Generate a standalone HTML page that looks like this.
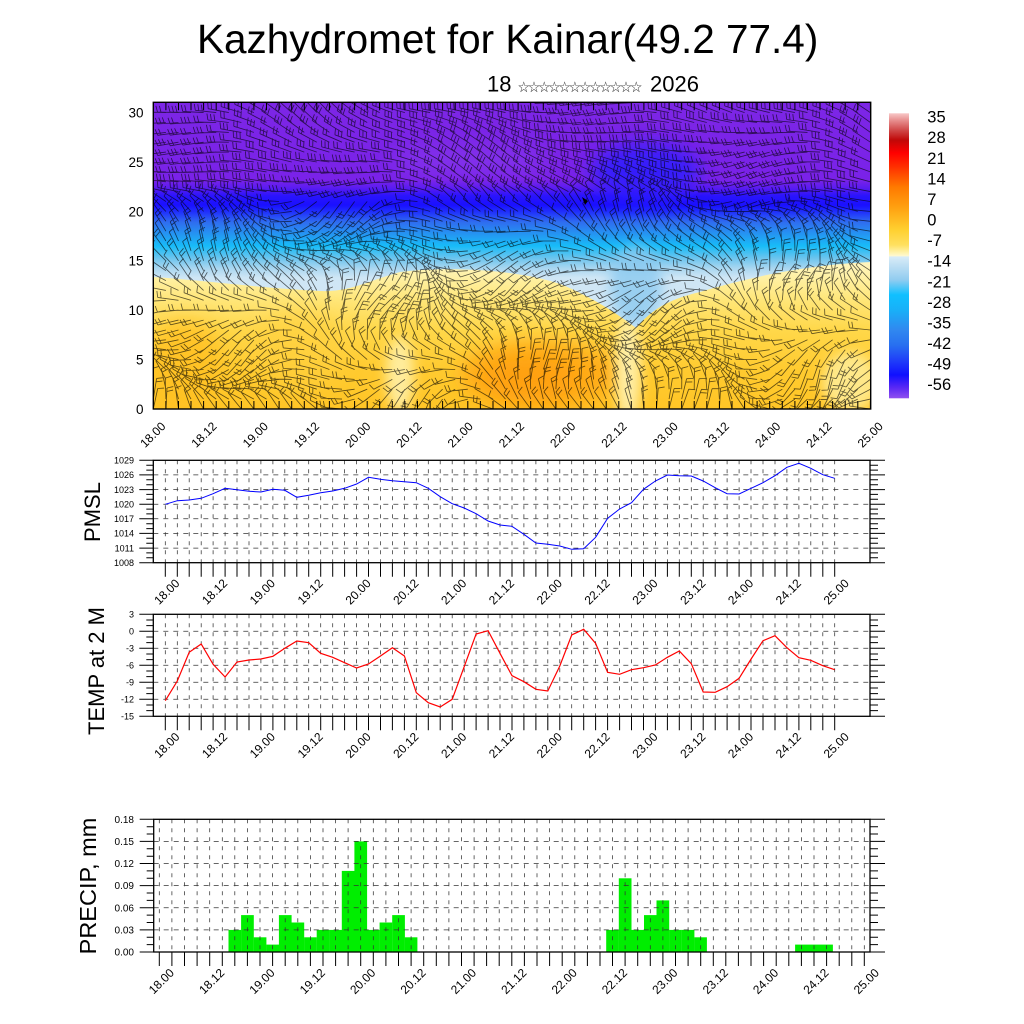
<!DOCTYPE html>
<html>
<head>
<meta charset="utf-8">
<style>
html,body{margin:0;padding:0;background:#fff;}
svg{display:block;}
text{font-family:"Liberation Sans",Arial,"DejaVu Sans",sans-serif;fill:#000;}
</style>
</head>
<body>
<svg id="s" xmlns="http://www.w3.org/2000/svg" width="1024" height="1024" viewBox="0 0 1024 1024">
<defs>
  <linearGradient id="bgG" gradientUnits="userSpaceOnUse" x1="0" y1="102" x2="0" y2="409">
    <stop offset="0" stop-color="#7c26e6"/>
    <stop offset="0.254" stop-color="#7a22e8"/>
    <stop offset="0.280" stop-color="#5a1cf0"/>
    <stop offset="0.306" stop-color="#2a14fc"/>
    <stop offset="0.336" stop-color="#1a10ff"/>
    <stop offset="0.358" stop-color="#2030fc"/>
    <stop offset="0.391" stop-color="#2f6cf0"/>
    <stop offset="0.433" stop-color="#2498f2"/>
    <stop offset="0.469" stop-color="#18bcf8"/>
    <stop offset="0.508" stop-color="#6ac4ee"/>
    <stop offset="0.541" stop-color="#a8d6f0"/>
    <stop offset="0.573" stop-color="#cfe6f5"/>
    <stop offset="1" stop-color="#d6eaf6"/>
  </linearGradient>
  <linearGradient id="yelG" gradientUnits="userSpaceOnUse" x1="0" y1="262" x2="0" y2="409">
    <stop offset="0" stop-color="#fff6c0"/>
    <stop offset="0.12" stop-color="#fff0a0"/>
    <stop offset="0.26" stop-color="#ffe678"/>
    <stop offset="0.46" stop-color="#ffd84a"/>
    <stop offset="0.73" stop-color="#ffcb30"/>
    <stop offset="1" stop-color="#ffc526"/>
  </linearGradient>
  <linearGradient id="cbG" x1="0" y1="0" x2="0" y2="1">
    <stop offset="0" stop-color="#f8c8c8"/>
    <stop offset="0.024" stop-color="#e89090"/>
    <stop offset="0.059" stop-color="#d04848"/>
    <stop offset="0.094" stop-color="#c00808"/>
    <stop offset="0.139" stop-color="#ff0000"/>
    <stop offset="0.188" stop-color="#ff3000"/>
    <stop offset="0.259" stop-color="#ff7a00"/>
    <stop offset="0.329" stop-color="#ffa010"/>
    <stop offset="0.409" stop-color="#ffd030"/>
    <stop offset="0.462" stop-color="#ffe060"/>
    <stop offset="0.490" stop-color="#fff4b0"/>
    <stop offset="0.500" stop-color="#fff8d0"/>
    <stop offset="0.504" stop-color="#d8ecf8"/>
    <stop offset="0.532" stop-color="#c0e0f4"/>
    <stop offset="0.585" stop-color="#90ccf0"/>
    <stop offset="0.637" stop-color="#10c0ff"/>
    <stop offset="0.690" stop-color="#18b0f8"/>
    <stop offset="0.760" stop-color="#3088f0"/>
    <stop offset="0.813" stop-color="#2870f0"/>
    <stop offset="0.865" stop-color="#2040f8"/>
    <stop offset="0.918" stop-color="#1010ff"/>
    <stop offset="0.963" stop-color="#5a28f4"/>
    <stop offset="1" stop-color="#9050f0"/>
  </linearGradient>
  <clipPath id="topClip"><rect x="153.3" y="102.3" width="717.4" height="306.7"/></clipPath>
  <clipPath id="yelClip"><path d="M153,277 C200,280 260,288 320,291 C350,292 365,282 400,272 C450,266 520,270 560,284 C590,296 615,312 636,328 C650,312 665,300 700,292 C740,280 800,265 870.7,262 L870.7,409 L153,409 Z"/></clipPath>
  <filter id="b6" x="-50%" y="-50%" width="200%" height="200%"><feGaussianBlur stdDeviation="6"/></filter>
  <filter id="b10" x="-50%" y="-50%" width="200%" height="200%"><feGaussianBlur stdDeviation="10"/></filter>
</defs>

<!-- Title -->
<text x="197" y="53" font-size="40.5">Kazhydromet for Kainar(49.2 77.4)</text>
<text x="487" y="91.5" font-size="22">18</text>
<text x="518" y="91" font-size="11.5" textLength="124" lengthAdjust="spacing" style="font-family:'Noto Sans CJK JP','Noto Sans CJK SC',sans-serif;fill:#333">☆☆☆☆☆☆☆☆☆☆☆☆</text>
<text x="650" y="91.5" font-size="22">2026</text>

<!-- Top contour panel -->
<g clip-path="url(#topClip)">
  <rect x="153" y="102" width="718" height="308" fill="url(#bgG)"/>
  <ellipse cx="645" cy="172" rx="55" ry="28" fill="#2a1cff" opacity="0.85" filter="url(#b10)"/>
  <ellipse cx="470" cy="160" rx="80" ry="14" fill="#8a40ee" opacity="0.5" filter="url(#b10)"/>
  <ellipse cx="636" cy="285" rx="26" ry="40" fill="#8ccaf0" opacity="0.8" filter="url(#b6)"/>
  <path d="M153,277 C200,280 260,288 320,291 C350,292 365,282 400,272 C450,266 520,270 560,284 C590,296 615,312 636,328 C650,312 665,300 700,292 C740,280 800,265 870.7,262 L870.7,409 L153,409 Z" fill="url(#yelG)"/>
  <g clip-path="url(#yelClip)">
    <ellipse cx="185" cy="365" rx="38" ry="45" fill="#ffc020" opacity="0.8" filter="url(#b10)"/>
    <ellipse cx="540" cy="375" rx="80" ry="34" fill="#ffa818" opacity="0.9" filter="url(#b10)"/>
    <ellipse cx="530" cy="380" rx="45" ry="20" fill="#ff9c10" opacity="0.7" filter="url(#b10)"/>
    <ellipse cx="400" cy="375" rx="14" ry="38" fill="#fff0a8" opacity="0.9" filter="url(#b6)"/>
    <ellipse cx="628" cy="370" rx="13" ry="55" fill="#fff2b0" opacity="0.9" filter="url(#b6)"/>
    <ellipse cx="850" cy="382" rx="28" ry="30" fill="#fff0a0" opacity="0.8" filter="url(#b6)"/>
    <ellipse cx="300" cy="350" rx="45" ry="40" fill="#ffd040" opacity="0.6" filter="url(#b10)"/>
  </g>
  <path id="barbs" d="" fill="none" stroke="#000" stroke-opacity="0.62" stroke-width="0.85"/>
  <path id="edgeTicks" d="" fill="none" stroke="#000" stroke-width="1"/>
  <polygon points="582,197 588,201 585,205" fill="#000"/>
</g>
<rect x="153.3" y="102.3" width="717.4" height="306.7" fill="none" stroke="#000" stroke-width="1.4"/>

<!-- Top y labels -->
<g font-size="13.5" text-anchor="end">
  <text x="143.5" y="413.8">0</text>
  <text x="143.5" y="364.4">5</text>
  <text x="143.5" y="315">10</text>
  <text x="143.5" y="265.6">15</text>
  <text x="143.5" y="216.3">20</text>
  <text x="143.5" y="166.9">25</text>
  <text x="143.5" y="117.5">30</text>
</g>
<!-- Top x labels -->
<g font-size="12" text-anchor="end">
  <text transform="translate(166.3,427) rotate(-45)">18.00</text>
  <text transform="translate(217.5,427) rotate(-45)">18.12</text>
  <text transform="translate(268.8,427) rotate(-45)">19.00</text>
  <text transform="translate(320,427) rotate(-45)">19.12</text>
  <text transform="translate(371.3,427) rotate(-45)">20.00</text>
  <text transform="translate(422.5,427) rotate(-45)">20.12</text>
  <text transform="translate(473.7,427) rotate(-45)">21.00</text>
  <text transform="translate(525,427) rotate(-45)">21.12</text>
  <text transform="translate(576.2,427) rotate(-45)">22.00</text>
  <text transform="translate(627.5,427) rotate(-45)">22.12</text>
  <text transform="translate(678.7,427) rotate(-45)">23.00</text>
  <text transform="translate(729.9,427) rotate(-45)">23.12</text>
  <text transform="translate(781.2,427) rotate(-45)">24.00</text>
  <text transform="translate(832.4,427) rotate(-45)">24.12</text>
  <text transform="translate(883.7,427) rotate(-45)">25.00</text>
</g>

<!-- Colorbar -->
<rect x="889" y="113.3" width="20" height="285" fill="url(#cbG)"/>
<g font-size="16.5">
  <text x="927.3" y="122.6">35</text>
  <text x="927.3" y="143.2">28</text>
  <text x="927.3" y="163.8">21</text>
  <text x="927.3" y="184.4">14</text>
  <text x="927.3" y="204.9">7</text>
  <text x="927.3" y="225.5">0</text>
  <text x="927.3" y="246.1">-7</text>
  <text x="927.3" y="266.7">-14</text>
  <text x="927.3" y="287.3">-21</text>
  <text x="927.3" y="307.9">-28</text>
  <text x="927.3" y="328.5">-35</text>
  <text x="927.3" y="349">-42</text>
  <text x="927.3" y="369.6">-49</text>
  <text x="927.3" y="390.2">-56</text>
</g>

<!-- Axis titles -->
<text transform="translate(100,512) rotate(-90)" text-anchor="middle" font-size="22">PMSL</text>
<text transform="translate(104,671) rotate(-90)" text-anchor="middle" font-size="22">TEMP at 2 M</text>
<text transform="translate(96,886) rotate(-90)" text-anchor="middle" font-size="23.5">PRECIP, mm</text>

<!-- grids / ticks (generated) -->
<g id="grids"></g>

<!-- PMSL -->
<polyline fill="none" stroke="#0000ff" stroke-width="1" points="165.3,504.3 177.3,500.7 189.2,500 201.2,498.3 213.1,493.7 225.1,488.3 237,489.7 249,491.3 260.9,492 272.9,489.3 284.8,490.3 296.8,497.3 308.7,495.3 320.7,492.7 332.7,491 344.6,488.3 356.6,484 368.5,477.3 380.5,479.3 392.4,480.7 404.4,481.7 416.3,482.7 428.3,488.3 440.2,496.7 452.2,503.7 464.2,508 476.1,513.7 488.1,521 500,525 512,526.3 523.9,534.3 535.9,543 547.8,544.3 559.8,546 571.7,549.3 583.7,548.7 595.6,537.3 607.6,518.3 619.6,509 631.5,502.7 643.5,489.3 655.4,481 667.4,475 679.3,475.7 691.3,476 703.2,481 715.2,487.7 727.1,493.7 739.1,494 751.1,488.3 763,482.7 775,475.7 786.9,467.3 798.9,463.3 810.8,468.3 822.8,474.7 834.7,478.3"/>
<rect x="153.3" y="460.3" width="716.7" height="102.4" fill="none" stroke="#000" stroke-width="1.3"/>
<g font-size="9" text-anchor="end">
  <text x="134" y="463.5">1029</text>
  <text x="134" y="478.1">1026</text>
  <text x="134" y="492.8">1023</text>
  <text x="134" y="507.4">1020</text>
  <text x="134" y="522">1017</text>
  <text x="134" y="536.7">1014</text>
  <text x="134" y="551.3">1011</text>
  <text x="134" y="565.9">1008</text>
</g>
<g font-size="12" text-anchor="end">
  <text transform="translate(180.3,584) rotate(-45)">18.00</text>
  <text transform="translate(228.1,584) rotate(-45)">18.12</text>
  <text transform="translate(275.9,584) rotate(-45)">19.00</text>
  <text transform="translate(323.7,584) rotate(-45)">19.12</text>
  <text transform="translate(371.6,584) rotate(-45)">20.00</text>
  <text transform="translate(419.4,584) rotate(-45)">20.12</text>
  <text transform="translate(467.2,584) rotate(-45)">21.00</text>
  <text transform="translate(515,584) rotate(-45)">21.12</text>
  <text transform="translate(562.8,584) rotate(-45)">22.00</text>
  <text transform="translate(610.6,584) rotate(-45)">22.12</text>
  <text transform="translate(658.5,584) rotate(-45)">23.00</text>
  <text transform="translate(706.3,584) rotate(-45)">23.12</text>
  <text transform="translate(754.1,584) rotate(-45)">24.00</text>
  <text transform="translate(801.9,584) rotate(-45)">24.12</text>
  <text transform="translate(849.7,584) rotate(-45)">25.00</text>
</g>

<!-- TEMP -->
<polyline fill="none" stroke="#ff0000" stroke-width="1.2" points="165.3,700.7 177.3,681 189.2,652.3 201.2,644 213.1,664.3 225.1,677 237,662 249,660 260.9,659 272.9,656.3 284.8,648.3 296.8,641 308.7,642.7 320.7,653.3 332.7,657.3 344.6,662.7 356.6,668 368.5,664 380.5,656 392.4,647.7 404.4,656 416.3,692.7 428.3,702.7 440.2,707 452.2,699.3 464.2,666.7 476.1,634 488.1,630.7 500,653.3 512,675.7 523.9,681.7 535.9,689.3 547.8,691 559.8,666 571.7,635 583.7,629.3 595.6,643.3 607.6,672.3 619.6,674.3 631.5,669.7 643.5,667.7 655.4,665 667.4,657.3 679.3,651 691.3,663.7 703.2,692 715.2,692.3 727.1,686.7 739.1,678.3 751.1,659 763,640.7 775,635.7 786.9,647.7 798.9,657.7 810.8,660.3 822.8,665.7 834.7,669.7"/>
<rect x="153.3" y="614.3" width="716.7" height="102" fill="none" stroke="#000" stroke-width="1.3"/>
<g font-size="9" text-anchor="end">
  <text x="134" y="617.5">3</text>
  <text x="134" y="634.5">0</text>
  <text x="134" y="651.5">-3</text>
  <text x="134" y="668.5">-6</text>
  <text x="134" y="685.5">-9</text>
  <text x="134" y="702.5">-12</text>
  <text x="134" y="719.5">-15</text>
</g>
<g font-size="12" text-anchor="end">
  <text transform="translate(180.3,737.5) rotate(-45)">18.00</text>
  <text transform="translate(228.1,737.5) rotate(-45)">18.12</text>
  <text transform="translate(275.9,737.5) rotate(-45)">19.00</text>
  <text transform="translate(323.7,737.5) rotate(-45)">19.12</text>
  <text transform="translate(371.6,737.5) rotate(-45)">20.00</text>
  <text transform="translate(419.4,737.5) rotate(-45)">20.12</text>
  <text transform="translate(467.2,737.5) rotate(-45)">21.00</text>
  <text transform="translate(515,737.5) rotate(-45)">21.12</text>
  <text transform="translate(562.8,737.5) rotate(-45)">22.00</text>
  <text transform="translate(610.6,737.5) rotate(-45)">22.12</text>
  <text transform="translate(658.5,737.5) rotate(-45)">23.00</text>
  <text transform="translate(706.3,737.5) rotate(-45)">23.12</text>
  <text transform="translate(754.1,737.5) rotate(-45)">24.00</text>
  <text transform="translate(801.9,737.5) rotate(-45)">24.12</text>
  <text transform="translate(849.7,737.5) rotate(-45)">25.00</text>
</g>

<!-- PRECIP bars -->
<g fill="#00ee00">
  <rect x="228.5" y="929.9" width="12.7" height="22.1"/>
  <rect x="241.1" y="915.1" width="12.7" height="36.9"/>
  <rect x="253.7" y="937.3" width="12.7" height="14.7"/>
  <rect x="266.3" y="944.6" width="12.7" height="7.4"/>
  <rect x="278.9" y="915.1" width="12.7" height="36.9"/>
  <rect x="291.5" y="922.5" width="12.7" height="29.5"/>
  <rect x="304.1" y="937.3" width="12.7" height="14.7"/>
  <rect x="316.7" y="929.9" width="12.7" height="22.1"/>
  <rect x="329.3" y="929.9" width="12.7" height="22.1"/>
  <rect x="341.8" y="870.9" width="12.7" height="81.1"/>
  <rect x="354.4" y="841.4" width="12.7" height="110.6"/>
  <rect x="367.0" y="929.9" width="12.7" height="22.1"/>
  <rect x="379.6" y="922.5" width="12.7" height="29.5"/>
  <rect x="392.2" y="915.1" width="12.7" height="36.9"/>
  <rect x="404.8" y="937.3" width="12.6" height="14.7"/>
  <rect x="606.2" y="929.9" width="12.7" height="22.1"/>
  <rect x="618.8" y="878.3" width="12.7" height="73.7"/>
  <rect x="631.4" y="929.9" width="12.7" height="22.1"/>
  <rect x="644.0" y="915.1" width="12.7" height="36.9"/>
  <rect x="656.5" y="900.4" width="12.7" height="51.6"/>
  <rect x="669.1" y="929.9" width="12.7" height="22.1"/>
  <rect x="681.7" y="929.9" width="12.7" height="22.1"/>
  <rect x="694.3" y="937.3" width="12.6" height="14.7"/>
  <rect x="795.1" y="944.6" width="37.8" height="7.4"/>
</g>
<g id="grids2"></g>
<rect x="153.7" y="819.3" width="716.3" height="132.7" fill="none" stroke="#000" stroke-width="1.3"/>
<g font-size="10" text-anchor="end">
  <text x="134" y="822.8">0.18</text>
  <text x="134" y="844.9">0.15</text>
  <text x="134" y="867">0.12</text>
  <text x="134" y="889.2">0.09</text>
  <text x="134" y="911.3">0.06</text>
  <text x="134" y="933.4">0.03</text>
  <text x="134" y="955.5">0.00</text>
</g>
<g font-size="12" text-anchor="end">
  <text transform="translate(174.8,973.5) rotate(-45)">18.00</text>
  <text transform="translate(225.2,973.5) rotate(-45)">18.12</text>
  <text transform="translate(275.5,973.5) rotate(-45)">19.00</text>
  <text transform="translate(325.9,973.5) rotate(-45)">19.12</text>
  <text transform="translate(376.2,973.5) rotate(-45)">20.00</text>
  <text transform="translate(426.6,973.5) rotate(-45)">20.12</text>
  <text transform="translate(477,973.5) rotate(-45)">21.00</text>
  <text transform="translate(527.3,973.5) rotate(-45)">21.12</text>
  <text transform="translate(577.7,973.5) rotate(-45)">22.00</text>
  <text transform="translate(628,973.5) rotate(-45)">22.12</text>
  <text transform="translate(678.4,973.5) rotate(-45)">23.00</text>
  <text transform="translate(728.8,973.5) rotate(-45)">23.12</text>
  <text transform="translate(779.1,973.5) rotate(-45)">24.00</text>
  <text transform="translate(829.5,973.5) rotate(-45)">24.12</text>
  <text transform="translate(879.8,973.5) rotate(-45)">25.00</text>
</g>
</svg>
<script>
(function(){
  var NS='http://www.w3.org/2000/svg';
  function f(v){return v.toFixed(1);}
  function pathEl(parent,d,attrs){
    var p=document.createElementNS(NS,'path');
    p.setAttribute('d',d);p.setAttribute('fill','none');
    for(var k in attrs)p.setAttribute(k,attrs[k]);
    parent.appendChild(p);
  }
  function panel(parent,o){
    var vd='',hd='',td='';
    for(var i=0;i<o.xs.length;i++){
      var x=o.xs[i];
      vd+='M'+f(x)+' '+f(o.y0)+'V'+f(o.y1);
      td+='M'+f(x)+' '+f(o.y1)+'V'+f(o.y1+14);
    }
    for(var k=0;k<=o.n;k++){
      var y=o.y0+k*o.step;
      if(k>0&&k<o.n) hd+='M'+f(o.x0)+' '+f(y)+'H'+f(o.x1);
      td+='M'+f(o.x0-14)+' '+f(y)+'H'+f(o.x0);
      td+='M'+f(o.x1)+' '+f(y)+'H'+f(o.x1+15);
      if(k<o.n){
        for(var m=1;m<=2;m++){
          var ym=y+m*o.step/3;
          td+='M'+f(o.x0-7)+' '+f(ym)+'H'+f(o.x0);
          td+='M'+f(o.x1)+' '+f(ym)+'H'+f(o.x1+8);
        }
      }
    }
    pathEl(parent,vd,{'stroke':'#333','stroke-width':'0.75','stroke-dasharray':'4 5'});
    pathEl(parent,hd,{'stroke':'#333','stroke-width':'0.75','stroke-dasharray':'5 5'});
    pathEl(parent,td,{'stroke':'#000','stroke-width':'1'});
  }
  var xs1=[],xs2=[];
  for(var i=0;i<=56;i++){xs1.push(165.3+i*11.954);xs2.push(159.3+i*12.59);}
  var g=document.getElementById('grids');
  panel(g,{xs:xs1,x0:153.3,x1:870,y0:460.3,y1:562.7,n:7,step:102.4/7});
  panel(g,{xs:xs1,x0:153.3,x1:870,y0:614.3,y1:716.3,n:6,step:17});
  var g2=document.getElementById('grids2');
  panel(g2,{xs:xs2,x0:153.7,x1:870,y0:819.3,y1:952,n:6,step:132.7/6});

  // wind barbs
  var d='';
  var x0=153.3,y1=409;
  for(var i=0;i<=57;i++){
    for(var j=0;j<=31;j++){
      var x=x0+i*12.58, y=y1-j*9.88;
      var a=0.9*Math.sin(x/83-y/29+1.3)+0.5*Math.cos(x/31+y/47)+0.3*Math.sin(x/57+y/41);
      var th,n,L=21;
      if(y<200){th=Math.PI+0.25+0.35*a;n=2+((i+j)%2);}
      else if(y<280){th=Math.PI+0.4+0.8*a;n=1+((i*5+j)%2);}
      else{th=Math.PI+0.5+1.1*a;n=1+((i*7+j*3)%2);}
      var c=Math.cos(th),s=Math.sin(th);
      d+='M'+f(x)+' '+f(y)+'L'+f(x+L*c)+' '+f(y+L*s);
      var ph=th+1.3,pc=Math.cos(ph),ps=Math.sin(ph);
      for(var k=0;k<n;k++){
        var bx=x+(L-k*3.5)*c,by=y+(L-k*3.5)*s;
        d+='M'+f(bx)+' '+f(by)+'l'+f(6.5*pc)+' '+f(6.5*ps);
      }
    }
  }
  document.getElementById('barbs').setAttribute('d',d);
  var e='';
  for(var k=0;k<=57;k++){
    var x=153.3+k*12.58;
    e+='M'+f(x)+' 102.3v8M'+f(x)+' 409v-8';
  }
  document.getElementById('edgeTicks').setAttribute('d',e);
})();
</script>
</body>
</html>
